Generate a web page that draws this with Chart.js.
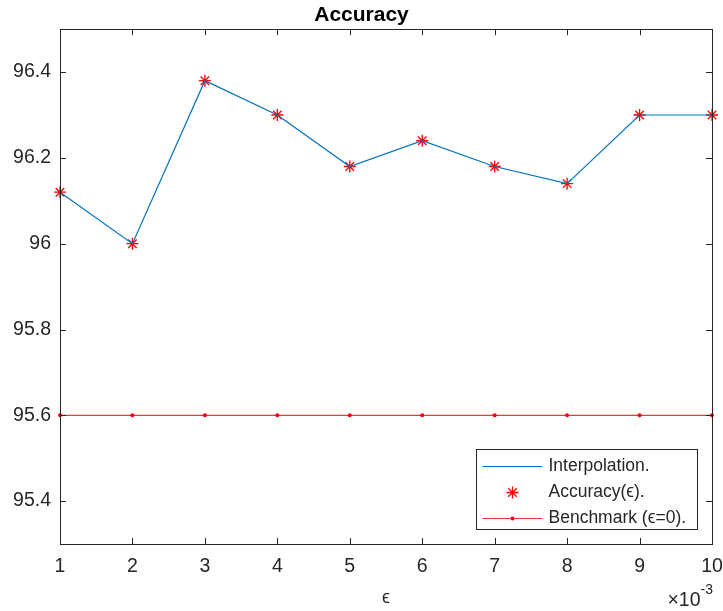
<!DOCTYPE html>
<html lang="en">

<head>
    <meta charset="UTF-8">
    <title>Accuracy</title>
    <script src="https://cdn.jsdelivr.net/npm/chart.js"></script>
    <style>
        body {
            margin: 0;
            background-color: #ffffff;
        }

        .grafico {
            width: 723px;
            height: 611px;
        }
    </style>
</head>

<body>
    <div class="grafico">
        <canvas id="myChart"></canvas>
    </div>

    <script>
        // datos
        const epsilons = [1, 2, 3, 4, 5, 6, 7, 8, 9, 10];
        const accuracy = [96.12, 96.00, 96.38, 96.30, 96.18, 96.24, 96.18, 96.14, 96.30, 96.30];
        const benchmark = [95.6, 95.6, 95.6, 95.6, 95.6, 95.6, 95.6, 95.6, 95.6, 95.6];
        const xTicks = [1, 2, 3, 4, 5, 6, 7, 8, 9, 10];
        const yTicks = [95.4, 95.6, 95.8, 96.0, 96.2, 96.4];
        const legendLabels = ['Interpolation.', 'Accuracy(\u03f5).', 'Benchmark (\u03f5=0).'];

        const axisColor = '#262626';
        const fontFamily = '"Liberation Sans", Arial, Helvetica, sans-serif';

        const toPoints = (ys) => epsilons.map((x, i) => ({ x: x, y: ys[i] }));

        // caja, ticks hacia dentro, leyenda y etiquetas extra
        const matlabPlugin = {
            id: 'matlab',
            afterDatasetsDraw(chart) {
                const ctx = chart.ctx;
                const a = chart.chartArea;
                const xs = chart.scales.x;
                const ys = chart.scales.y;
                const tl = 6;

                ctx.save();
                ctx.strokeStyle = axisColor;
                ctx.lineWidth = 1;
                ctx.beginPath();
                xTicks.forEach(v => {
                    const px = Math.round(xs.getPixelForValue(v)) + 0.5;
                    ctx.moveTo(px, a.bottom); ctx.lineTo(px, a.bottom - tl);
                    ctx.moveTo(px, a.top); ctx.lineTo(px, a.top + tl);
                });
                yTicks.forEach(v => {
                    const py = Math.round(ys.getPixelForValue(v)) + 0.5;
                    ctx.moveTo(a.left, py); ctx.lineTo(a.left + tl, py);
                    ctx.moveTo(a.right, py); ctx.lineTo(a.right - tl, py);
                });
                ctx.stroke();
                ctx.strokeRect(Math.round(a.left) + 0.5, Math.round(a.top) + 0.5,
                    Math.round(a.right - a.left), Math.round(a.bottom - a.top));

                // leyenda
                const lw = 221, lh = 80;
                const lx = Math.round(a.right - 15 - lw) + 0.5;
                const ly = Math.round(a.bottom - 15 - lh) + 0.5;
                ctx.fillStyle = '#ffffff';
                ctx.fillRect(lx, ly, lw, lh);
                ctx.strokeStyle = axisColor;
                ctx.strokeRect(lx, ly, lw, lh);

                const sx0 = lx + 6, sx1 = lx + 66, sxm = lx + 36;
                const rows = [ly + 17, ly + 43, ly + 69];
                const ds = chart.data.datasets;

                ctx.strokeStyle = ds[0].borderColor;
                ctx.lineWidth = ds[0].borderWidth;
                ctx.beginPath();
                ctx.moveTo(sx0, rows[0]); ctx.lineTo(sx1, rows[0]);
                ctx.stroke();

                ctx.strokeStyle = ds[1].pointBorderColor;
                ctx.lineWidth = ds[1].pointBorderWidth;
                Chart.helpers.drawPoint(ctx, {
                    pointStyle: 'star', radius: ds[1].pointRadius, borderWidth: ds[1].pointBorderWidth
                }, sxm, rows[1]);

                ctx.strokeStyle = ds[2].borderColor;
                ctx.lineWidth = ds[2].borderWidth;
                ctx.beginPath();
                ctx.moveTo(sx0, rows[2]); ctx.lineTo(sx1, rows[2]);
                ctx.stroke();
                ctx.fillStyle = ds[2].pointBackgroundColor;
                ctx.beginPath();
                ctx.arc(sxm, rows[2], ds[2].pointRadius, 0, Math.PI * 2);
                ctx.fill();

                ctx.fillStyle = axisColor;
                ctx.font = '17.5px ' + fontFamily;
                ctx.textAlign = 'left';
                ctx.textBaseline = 'middle';
                legendLabels.forEach((t, i) => ctx.fillText(t, lx + 72, rows[i]));

                // titulo del eje x y multiplicador
                ctx.font = '18px ' + fontFamily;
                ctx.textAlign = 'center';
                ctx.fillText('\u03f5', (a.left + a.right) / 2, a.bottom + 54);

                ctx.textAlign = 'right';
                ctx.font = '14px ' + fontFamily;
                ctx.fillText('-3', a.right + 1, a.bottom + 46);
                const supW = ctx.measureText('-3').width;
                ctx.font = '19.5px ' + fontFamily;
                ctx.fillText('\u00d710', a.right + 1 - supW, a.bottom + 57);
                ctx.restore();
            }
        };

        const ctx = document.getElementById('myChart');

        const myChart = new Chart(ctx, {
            type: 'line',
            data: {
                datasets: [{
                    label: legendLabels[0],
                    data: toPoints(accuracy),
                    borderColor: '#0072BD',
                    borderWidth: 1.2,
                    pointRadius: 0,
                    tension: 0,
                    clip: false
                }, {
                    label: legendLabels[1],
                    data: toPoints(accuracy),
                    showLine: false,
                    pointStyle: 'star',
                    pointRadius: 6,
                    pointBorderWidth: 1.3,
                    pointBorderColor: '#ff0000',
                    borderColor: '#ff0000',
                    clip: false
                }, {
                    label: legendLabels[2],
                    data: toPoints(benchmark),
                    borderColor: '#ff3030',
                    borderWidth: 1.2,
                    pointRadius: 2,
                    pointBorderWidth: 0,
                    pointBackgroundColor: '#ff0000',
                    tension: 0,
                    clip: false
                }]
            },
            options: {
                responsive: true,
                maintainAspectRatio: false,
                animation: false,
                layout: {
                    padding: { left: 0, right: 0, top: 0, bottom: 0 }
                },
                plugins: {
                    legend: { display: false },
                    tooltip: { enabled: false },
                    title: {
                        display: true,
                        text: 'Accuracy',
                        color: '#000000',
                        font: { family: fontFamily, size: 21, weight: 'bold' },
                        padding: { top: 3, bottom: 1 }
                    }
                },
                scales: {
                    x: {
                        type: 'linear',
                        min: 1,
                        max: 10,
                        afterBuildTicks: (s) => { s.ticks = xTicks.map(v => ({ value: v })); },
                        afterFit: (s) => { s.height = 67; s.paddingRight = 11; },
                        grid: { display: false, drawTicks: false },
                        border: { display: false },
                        ticks: {
                            color: axisColor,
                            padding: 11,
                            maxRotation: 0,
                            font: { family: fontFamily, size: 19.5 }
                        }
                    },
                    y: {
                        min: 95.3,
                        max: 96.5,
                        afterBuildTicks: (s) => { s.ticks = yTicks.map(v => ({ value: v })); },
                        afterFit: (s) => { s.width = 60; },
                        grid: { display: false, drawTicks: false },
                        border: { display: false },
                        ticks: {
                            color: axisColor,
                            padding: 9,
                            font: { family: fontFamily, size: 19.5 },
                            callback: (v) => String(Math.round(v * 10) / 10)
                        }
                    }
                }
            },
            plugins: [matlabPlugin]
        });
    </script>
</body>

</html>
